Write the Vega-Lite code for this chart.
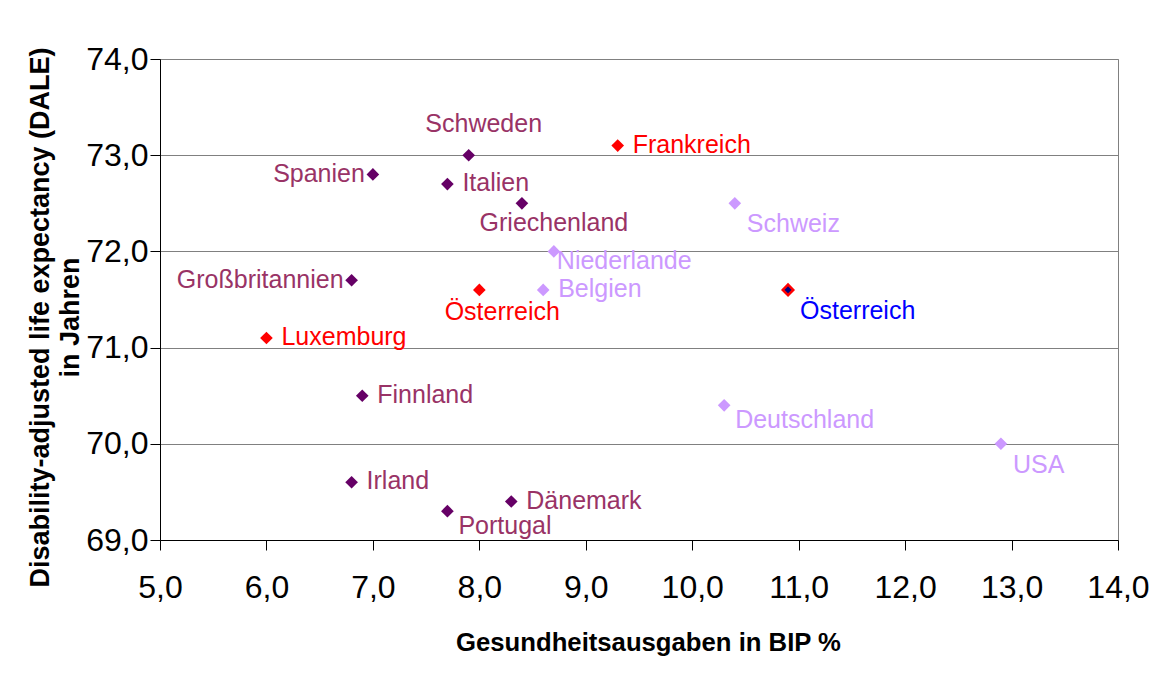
{
  "$schema": "https://vega.github.io/schema/vega-lite/v6.json",
  "width": 958,
  "height": 481,
  "autosize": {"type": "none"},
  "padding": {"left": 160, "top": 59, "right": 48, "bottom": 148},
  "background": "white",
  "config": {
    "font": "Liberation Sans",
    "view": {"stroke": "#808080", "strokeWidth": 1}
  },
  "data": {
    "values": [
      {"land": "Schweden", "ausgaben": 7.9, "dale": 73.0, "gruppe": "dunkel"},
      {"land": "Frankreich", "ausgaben": 9.3, "dale": 73.1, "gruppe": "rot"},
      {"land": "Spanien", "ausgaben": 7.0, "dale": 72.8, "gruppe": "dunkel"},
      {"land": "Italien", "ausgaben": 7.7, "dale": 72.7, "gruppe": "dunkel"},
      {"land": "Griechenland", "ausgaben": 8.4, "dale": 72.5, "gruppe": "dunkel"},
      {"land": "Schweiz", "ausgaben": 10.4, "dale": 72.5, "gruppe": "hell"},
      {"land": "Niederlande", "ausgaben": 8.7, "dale": 72.0, "gruppe": "hell"},
      {"land": "Großbritannien", "ausgaben": 6.8, "dale": 71.7, "gruppe": "dunkel"},
      {"land": "Österreich", "ausgaben": 8.0, "dale": 71.6, "gruppe": "rot"},
      {"land": "Belgien", "ausgaben": 8.6, "dale": 71.6, "gruppe": "hell"},
      {"land": "Österreich", "ausgaben": 10.9, "dale": 71.6, "gruppe": "blau"},
      {"land": "Luxemburg", "ausgaben": 6.0, "dale": 71.1, "gruppe": "rot"},
      {"land": "Finnland", "ausgaben": 6.9, "dale": 70.5, "gruppe": "dunkel"},
      {"land": "Deutschland", "ausgaben": 10.3, "dale": 70.4, "gruppe": "hell"},
      {"land": "USA", "ausgaben": 12.9, "dale": 70.0, "gruppe": "hell"},
      {"land": "Irland", "ausgaben": 6.8, "dale": 69.6, "gruppe": "dunkel"},
      {"land": "Dänemark", "ausgaben": 8.3, "dale": 69.4, "gruppe": "dunkel"},
      {"land": "Portugal", "ausgaben": 7.7, "dale": 69.3, "gruppe": "dunkel"}
    ]
  },
  "encoding": {
    "x": {
      "field": "ausgaben", "type": "quantitative",
      "scale": {"domain": [5, 14], "nice": false, "zero": false},
      "axis": {
        "values": [5, 6, 7, 8, 9, 10, 11, 12, 13, 14],
        "labelExpr": "replace(format(datum.value, '.1f'), '.', ',')",
        "grid": false,
        "labelFontSize": 32, "labelColor": "black", "labelFont": "Liberation Sans",
        "labelPadding": 22, "labelFlush": false,
        "tickSize": 10, "tickColor": "black", "tickWidth": 1,
        "domainColor": "black", "domainWidth": 1,
        "title": "Gesundheitsausgaben in BIP %",
        "titleFontSize": 25.7, "titleFontWeight": "bold", "titleColor": "black", "titleFont": "Liberation Sans",
        "titleBaseline": "alphabetic", "titleY": 110, "titleX": 488
      }
    },
    "y": {
      "field": "dale", "type": "quantitative",
      "scale": {"domain": [69, 74], "nice": false, "zero": false},
      "axis": {
        "values": [69, 70, 71, 72, 73, 74],
        "labelExpr": "replace(format(datum.value, '.1f'), '.', ',')",
        "grid": true, "gridColor": "#808080", "gridWidth": 1,
        "labelFontSize": 32, "labelColor": "black", "labelFont": "Liberation Sans",
        "labelPadding": 2, "labelFlush": false,
        "tickSize": 10, "tickColor": "black", "tickWidth": 1,
        "domainColor": "black", "domainWidth": 1,
        "title": ["Disability-adjusted life expectancy (DALE)", "in Jahren"],
        "titleFontSize": 27, "titleFontWeight": "bold", "titleColor": "black", "titleFont": "Liberation Sans",
        "titleAngle": -90, "titleAlign": "center", "titleBaseline": "alphabetic",
        "titleLineHeight": 30, "titleX": -112, "titleY": 258
      }
    }
  },
  "layer": [
    {
      "transform": [{"filter": "datum.gruppe !== 'blau'"}],
      "mark": {"type": "point", "shape": "diamond", "filled": true, "size": 160, "strokeWidth": 0, "opacity": 1},
      "encoding": {
        "fill": {
          "field": "gruppe", "type": "nominal",
          "scale": {"domain": ["dunkel", "hell", "rot"], "range": ["#660066", "#CC99FF", "#FF0000"]},
          "legend": null
        }
      }
    },
    {
      "transform": [{"filter": "datum.gruppe === 'blau'"}],
      "mark": {"type": "point", "shape": "diamond", "filled": true, "size": 110, "fill": "#000080", "stroke": "#FF0000", "strokeWidth": 2.5, "opacity": 1}
    },
    {
      "transform": [{"filter": {"field": "land", "oneOf": ["Frankreich", "Italien", "Belgien", "Luxemburg", "Finnland", "Irland", "Dänemark"]}}],
      "mark": {"type": "text", "align": "left", "baseline": "middle", "dx": 15, "dy": -1, "fontSize": 25, "font": "Liberation Sans"},
      "encoding": {
        "text": {"field": "land"},
        "color": {"field": "gruppe", "type": "nominal", "scale": {"domain": ["dunkel", "hell", "rot", "blau"], "range": ["#993366", "#CC99FF", "#FF0000", "#0000FF"]}, "legend": null}
      }
    },
    {
      "transform": [{"filter": {"field": "land", "oneOf": ["Spanien", "Großbritannien"]}}],
      "mark": {"type": "text", "align": "right", "baseline": "middle", "dx": -8, "dy": 0, "fontSize": 25, "font": "Liberation Sans"},
      "encoding": {
        "text": {"field": "land"},
        "color": {"field": "gruppe", "type": "nominal", "scale": {"domain": ["dunkel", "hell", "rot", "blau"], "range": ["#993366", "#CC99FF", "#FF0000", "#0000FF"]}, "legend": null}
      }
    },
    {
      "transform": [{"filter": {"field": "land", "oneOf": ["Schweden"]}}],
      "mark": {"type": "text", "align": "center", "baseline": "middle", "dx": 15, "dy": -31, "fontSize": 25, "font": "Liberation Sans"},
      "encoding": {
        "text": {"field": "land"},
        "color": {"field": "gruppe", "type": "nominal", "scale": {"domain": ["dunkel", "hell", "rot", "blau"], "range": ["#993366", "#CC99FF", "#FF0000", "#0000FF"]}, "legend": null}
      }
    },
    {
      "transform": [{"filter": {"field": "land", "oneOf": ["Griechenland"]}}],
      "mark": {"type": "text", "align": "center", "baseline": "middle", "dx": 32, "dy": 20, "fontSize": 25, "font": "Liberation Sans"},
      "encoding": {
        "text": {"field": "land"},
        "color": {"field": "gruppe", "type": "nominal", "scale": {"domain": ["dunkel", "hell", "rot", "blau"], "range": ["#993366", "#CC99FF", "#FF0000", "#0000FF"]}, "legend": null}
      }
    },
    {
      "transform": [{"filter": "datum.land === 'Österreich' && datum.gruppe === 'rot'"}],
      "mark": {"type": "text", "align": "center", "baseline": "middle", "dx": 23, "dy": 22, "fontSize": 25, "font": "Liberation Sans"},
      "encoding": {
        "text": {"field": "land"},
        "color": {"field": "gruppe", "type": "nominal", "scale": {"domain": ["dunkel", "hell", "rot", "blau"], "range": ["#993366", "#CC99FF", "#FF0000", "#0000FF"]}, "legend": null}
      }
    },
    {
      "transform": [{"filter": "datum.land === 'Schweiz' || datum.land === 'USA' || (datum.land === 'Österreich' && datum.gruppe === 'blau')"}],
      "mark": {"type": "text", "align": "left", "baseline": "middle", "dx": 12, "dy": 21, "fontSize": 25, "font": "Liberation Sans"},
      "encoding": {
        "text": {"field": "land"},
        "color": {"field": "gruppe", "type": "nominal", "scale": {"domain": ["dunkel", "hell", "rot", "blau"], "range": ["#993366", "#CC99FF", "#FF0000", "#0000FF"]}, "legend": null}
      }
    },
    {
      "transform": [{"filter": {"field": "land", "oneOf": ["Deutschland", "Portugal"]}}],
      "mark": {"type": "text", "align": "left", "baseline": "middle", "dx": 11, "dy": 15, "fontSize": 25, "font": "Liberation Sans"},
      "encoding": {
        "text": {"field": "land"},
        "color": {"field": "gruppe", "type": "nominal", "scale": {"domain": ["dunkel", "hell", "rot", "blau"], "range": ["#993366", "#CC99FF", "#FF0000", "#0000FF"]}, "legend": null}
      }
    },
    {
      "transform": [{"filter": {"field": "land", "oneOf": ["Niederlande"]}}],
      "mark": {"type": "text", "align": "left", "baseline": "middle", "dx": 3, "dy": 10, "fontSize": 25, "font": "Liberation Sans"},
      "encoding": {
        "text": {"field": "land"},
        "color": {"field": "gruppe", "type": "nominal", "scale": {"domain": ["dunkel", "hell", "rot", "blau"], "range": ["#993366", "#CC99FF", "#FF0000", "#0000FF"]}, "legend": null}
      }
    }
  ]
}
